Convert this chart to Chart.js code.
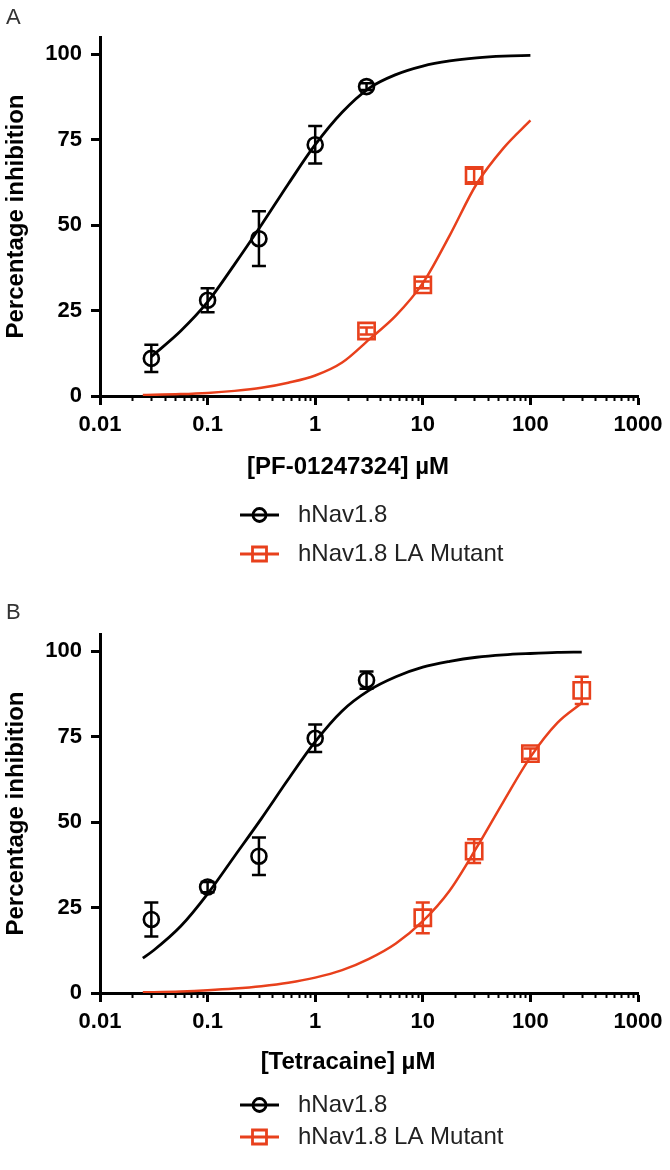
<!DOCTYPE html>
<html>
<head>
<meta charset="utf-8">
<script src="https://cdn.jsdelivr.net/npm/chart.js@4.4.1/dist/chart.umd.min.js"></script>
<style>
html, body { margin: 0; padding: 0; background: #fff; }
.panel { width: 670px; height: 585px; }
</style>
</head>
<body>
<div class="panel"><canvas id="chartA" width="670" height="585"></canvas></div>
<div class="panel"><canvas id="chartB" width="670" height="585"></canvas></div>
<script>
// series names + axis ticks
const seriesNames = ['hNav1.8', 'hNav1.8 LA Mutant'];
const xTickValues = [0.01, 0.1, 1, 10, 100, 1000];
const xTickLabels = ['0.01', '0.1', '1', '10', '100', '1000'];
const yTickValues = [0, 25, 50, 75, 100];

// panel A - PF-01247324
const doseA = [0.03, 0.1, 0.3, 1, 3];
const wtA = [11, 28, 46, 73.5, 90.5];
const wtErrA = [4, 3.5, 8, 5.5, 1];
const mutDoseA = [3, 10, 30];
const mutA = [19, 32.5, 64.5];
const mutErrA = [1, 1, 2];
// fitted curves
const fitWtXA = [0.03, 0.0562, 0.1, 0.178, 0.316, 0.562, 1, 1.78, 3.16, 5.62, 10, 17.8, 31.6, 56.2, 100];
const fitWtYA = [11.5, 19, 27.5, 38.5, 50, 62, 73.5, 83, 90, 94, 96.5, 98, 98.9, 99.4, 99.6];
const fitMutXA = [0.025, 0.0316, 0.0562, 0.1, 0.178, 0.316, 0.562, 1, 1.78, 3.16, 5.62, 10, 17.8, 31.6, 56.2, 100];
const fitMutYA = [0.3, 0.35, 0.55, 0.9, 1.5, 2.4, 3.9, 6, 9.8, 16.5, 23.5, 33, 47, 62, 72.5, 80.6];

// panel B - tetracaine
const doseB = [0.03, 0.1, 0.3, 1, 3];
const wtB = [21.5, 31, 40, 74.5, 91.5];
const wtErrB = [5, 1.5, 5.5, 4, 2.5];
const mutDoseB = [10, 30, 100, 300];
const mutB = [22, 41.5, 70, 88.5];
const mutErrB = [4.5, 3.5, 1.5, 4];
const fitWtXB = [0.025, 0.0316, 0.0562, 0.1, 0.178, 0.316, 0.562, 1, 1.78, 3.16, 5.62, 10, 17.8, 31.6, 56.2, 100, 178, 300];
const fitWtYB = [10.2, 12.5, 19.5, 29, 40, 51, 62.5, 73.5, 82.5, 88.5, 92.5, 95.3, 97, 98.2, 98.9, 99.3, 99.6, 99.7];
const fitMutXB = [0.025, 0.0316, 0.0562, 0.1, 0.178, 0.316, 0.562, 1, 1.78, 3.16, 5.62, 10, 17.8, 31.6, 56.2, 100, 178, 300];
const fitMutYB = [0.2, 0.25, 0.45, 0.8, 1.3, 2, 3, 4.5, 6.7, 10, 14.5, 21, 30, 42.5, 56, 69, 79, 84.8];

const BLACK = '#000000';
const RED = '#e8401c';
const FONT = 'Arial, "Liberation Sans", Helvetica, sans-serif';

function toXY(xs, ys) {
    return xs.map((x, i) => ({x: x, y: ys[i]}));
}

const errorBars = {
    id: 'errorBars',
    afterDatasetsDraw(chart) {
        const ctx = chart.ctx;
        const yScale = chart.scales.y;
        chart.data.datasets.forEach((ds, i) => {
            if (!ds.errors) return;
            const meta = chart.getDatasetMeta(i);
            ctx.save();
            ctx.strokeStyle = ds.borderColor;
            ctx.lineWidth = 2.5;
            meta.data.forEach((pt, j) => {
                const v = ds.data[j].y;
                const top = yScale.getPixelForValue(v + ds.errors[j]);
                const bot = yScale.getPixelForValue(v - ds.errors[j]);
                ctx.beginPath();
                ctx.moveTo(pt.x, top); ctx.lineTo(pt.x, bot);
                ctx.moveTo(pt.x - 7, top); ctx.lineTo(pt.x + 7, top);
                ctx.moveTo(pt.x - 7, bot); ctx.lineTo(pt.x + 7, bot);
                ctx.stroke();
            });
            ctx.restore();
        });
    }
};

// short ticks at 2..9 inside each decade
const minorTicks = {
    id: 'minorTicks',
    afterDraw(chart) {
        const ctx = chart.ctx;
        const xScale = chart.scales.x;
        const yb = chart.chartArea.bottom;
        ctx.save();
        ctx.strokeStyle = BLACK;
        ctx.lineWidth = 2;
        for (let k = -2; k < 3; k++) {
            for (let m = 2; m < 10; m++) {
                const px = Math.round(xScale.getPixelForValue(m * Math.pow(10, k))) + 0.5;
                ctx.beginPath();
                ctx.moveTo(px, yb);
                ctx.lineTo(px, yb + 5);
                ctx.stroke();
            }
        }
        ctx.restore();
    }
};

// panel letter, x title and the stacked legend under it
const panelDecor = {
    id: 'panelDecor',
    afterDraw(chart, args, opts) {
        const ctx = chart.ctx;
        ctx.save();
        ctx.textBaseline = 'middle';
        ctx.textAlign = 'left';
        ctx.fillStyle = '#333';
        ctx.font = '22px ' + FONT;
        ctx.fillText(opts.letter, 6, opts.letterY);

        ctx.textAlign = 'center';
        ctx.fillStyle = BLACK;
        ctx.font = 'bold 24px ' + FONT;
        ctx.fillText(opts.xTitle, 348, opts.xTitleY);

        ctx.textAlign = 'left';
        const colors = [BLACK, RED];
        opts.rows.forEach((ry, i) => {
            const x0 = 240, x1 = 279, cx = 259.5;
            ctx.strokeStyle = colors[i];
            ctx.lineWidth = 2.8;
            ctx.beginPath();
            ctx.moveTo(x0, ry); ctx.lineTo(x1, ry);
            ctx.stroke();
            ctx.beginPath();
            if (i === 0) ctx.arc(cx, ry, 6.5, 0, Math.PI * 2);
            else ctx.rect(cx - 7, ry - 7, 14, 14);
            ctx.stroke();
            ctx.fillStyle = '#222';
            ctx.font = '24px ' + FONT;
            ctx.fillText(seriesNames[i], 298, ry);
        });
        ctx.restore();
    }
};

function doseChart(id, p) {
    const tickFont = {family: FONT, size: 22, weight: 'bold'};
    const titleFont = {family: FONT, size: 24, weight: 'bold'};
    const data = {
        datasets: [
            {
                label: seriesNames[0] + ' fit',
                data: toXY(p.fitWtX, p.fitWtY),
                showLine: true,
                borderColor: BLACK,
                borderWidth: 2.8,
                pointRadius: 0,
                cubicInterpolationMode: 'monotone'
            },
            {
                label: seriesNames[1] + ' fit',
                data: toXY(p.fitMutX, p.fitMutY),
                showLine: true,
                borderColor: RED,
                borderWidth: 2.5,
                pointRadius: 0,
                cubicInterpolationMode: 'monotone'
            },
            {
                label: seriesNames[0],
                data: toXY(p.dose, p.wt),
                errors: p.wtErr,
                showLine: false,
                pointStyle: 'circle',
                pointRadius: 7.5,
                pointBorderWidth: 2.6,
                borderColor: BLACK,
                backgroundColor: 'rgba(0,0,0,0)'
            },
            {
                label: seriesNames[1],
                data: toXY(p.mutDose, p.mut),
                errors: p.mutErr,
                showLine: false,
                pointStyle: 'rect',
                pointRadius: 11.5,
                pointBorderWidth: 2.6,
                borderColor: RED,
                backgroundColor: 'rgba(0,0,0,0)'
            }
        ]
    };
    const config = {
        type: 'scatter',
        data: data,
        options: {
            responsive: false,
            animation: false,
            layout: {padding: {left: 0, right: 32, top: p.top, bottom: p.bottom}},
            plugins: {
                legend: {display: false},
                tooltip: {enabled: false},
                panelDecor: {letter: p.letter, letterY: p.letterY, rows: p.rows, xTitle: p.xTitle, xTitleY: p.xTitleY}
            },
            scales: {
                x: {
                    type: 'logarithmic',
                    min: 0.01,
                    max: 1000,
                    afterFit: s => { s.height = p.xHeight; },
                    afterBuildTicks: s => { s.ticks = xTickValues.map(v => ({value: v})); },
                    ticks: {
                        callback: (v, i) => xTickLabels[i],
                        autoSkip: false,
                        maxRotation: 0,
                        padding: 7,
                        color: BLACK,
                        font: tickFont
                    },
                    grid: {drawOnChartArea: false, tickLength: 9, tickWidth: 3, tickColor: BLACK},
                    border: {color: BLACK, width: 3}
                },
                y: {
                    min: 0,
                    max: 105,
                    afterFit: s => { s.width = 100; },
                    afterBuildTicks: s => { s.ticks = yTickValues.map(v => ({value: v})); },
                    ticks: {padding: 9, color: BLACK, font: tickFont},
                    grid: {drawOnChartArea: false, tickLength: 9, tickWidth: 3, tickColor: BLACK},
                    border: {color: BLACK, width: 3},
                    title: {display: true, text: 'Percentage inhibition', color: BLACK, font: titleFont, padding: {top: 2, bottom: 0}}
                }
            }
        },
        plugins: [errorBars, minorTicks, panelDecor]
    };
    let ctx = document.getElementById(id).getContext('2d');
    new Chart(ctx, config);
}

doseChart('chartA', {
    dose: doseA, wt: wtA, wtErr: wtErrA,
    mutDose: mutDoseA, mut: mutA, mutErr: mutErrA,
    fitWtX: fitWtXA, fitWtY: fitWtYA, fitMutX: fitMutXA, fitMutY: fitMutYA,
    xTitle: '[PF-01247324] µM', xTitleY: 467,
    letter: 'A', letterY: 18, rows: [515, 554],
    top: 37, bottom: 105, xHeight: 84
});

doseChart('chartB', {
    dose: doseB, wt: wtB, wtErr: wtErrB,
    mutDose: mutDoseB, mut: mutB, mutErr: mutErrB,
    fitWtX: fitWtXB, fitWtY: fitWtYB, fitMutX: fitMutXB, fitMutY: fitMutYB,
    xTitle: '[Tetracaine] µM', xTitleY: 477,
    letter: 'B', letterY: 28, rows: [520, 552],
    top: 49, bottom: 95, xHeight: 82
});
</script>
</body>
</html>
